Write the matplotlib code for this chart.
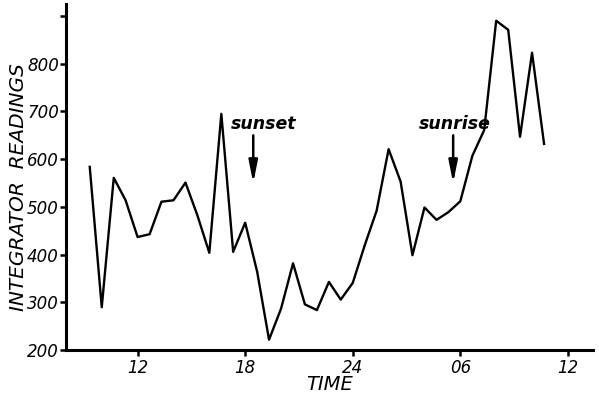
import matplotlib as mpl
import matplotlib.pyplot as plt

mpl.rcParams.update({
    'font.family': 'DejaVu Sans',
    'font.size': 12,
    'axes.linewidth': 2.2,
    'xtick.direction': 'out',
    'ytick.direction': 'out',
    'xtick.major.size': 4,
    'ytick.major.size': 4,
    'xtick.major.width': 1.8,
    'ytick.major.width': 1.8,
})

# time of each reading, hours from midnight of the first day
hours = [9.33, 10.0, 10.67, 11.33, 12.0, 12.67, 13.33, 14.0, 14.67, 15.33,
         16.0, 16.67, 17.33, 18.0, 18.67, 19.33, 20.0, 20.67, 21.33, 22.0,
         22.67, 23.33, 24.0, 24.67, 25.33, 26.0, 26.67, 27.33, 28.0, 28.67,
         29.33, 30.0, 30.67, 31.33, 32.0, 32.67, 33.33, 34.0, 34.67]
readings = [584, 290, 561, 514, 437, 443, 511, 514, 551, 483,
            404, 695, 406, 467, 364, 222, 287, 382, 296, 284,
            343, 306, 341, 420, 492, 621, 553, 399, 499, 473,
            489, 512, 607, 661, 890, 871, 647, 823, 632]

tick_hours = [12, 18, 24, 30, 36]
tick_labels = ["12", "18", "24", "06", "12"]
y_ticks = [200, 300, 400, 500, 600, 700, 800, 900]
y_tick_labels = ["200", "300", "400", "500", "600", "700", "800", ""]

events = ["sunset", "sunrise"]
event_hours = [18.45, 29.6]

fig = plt.figure(figsize=(5.99, 4.03), dpi=100)
ax = fig.add_axes([0.110, 0.131, 0.880, 0.859])

ax.plot(hours, readings, color="black", linewidth=1.7)

# label offsets (hours) so the words sit as in the original
text_shift = {"sunset": 0.55, "sunrise": 0.1}
for name, h in zip(events, event_hours):
    ax.annotate("", xy=(h, 550), xytext=(h, 650),
                arrowprops=dict(arrowstyle="-|>,head_width=0.22,head_length=1.1",
                                color="black", lw=1.8, shrinkA=0, shrinkB=0))
    ax.text(h + text_shift[name], 673, name, ha="center", va="center",
            fontsize=12.5, style="italic", fontweight="bold")

ax.set_xlim(8.0, 37.4)
ax.set_ylim(200, 925)

ax.set_xticks(tick_hours)
ax.set_xticklabels(tick_labels, style="italic", fontsize=12)
ax.set_yticks(y_ticks)
ax.set_yticklabels(y_tick_labels, style="italic", fontsize=12)
ax.tick_params(axis="x", pad=2)
ax.tick_params(axis="y", pad=1)

ax.spines["top"].set_visible(False)
ax.spines["right"].set_visible(False)

ax.set_ylabel("INTEGRATOR  READINGS", style="italic", fontsize=14.5)
ax.yaxis.set_label_coords(-0.072, 0.47)
ax.set_xlabel("TIME", style="italic", fontsize=14, labelpad=-1)

fig.savefig("out.png", dpi=100)
